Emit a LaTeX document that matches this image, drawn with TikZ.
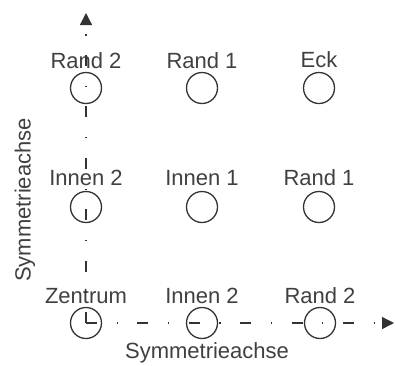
\documentclass[tikz,border=0pt]{standalone}
\usepackage{fontspec}
\setmainfont{Liberation Sans}
\usetikzlibrary{arrows.meta}
\definecolor{ink}{gray}{0.2}
\definecolor{txt}{gray}{0.25}
\tikzset{
  cell/.style={circle,draw=ink,line width=1.3pt,minimum size=31pt,inner sep=0pt},
  lbl/.style={anchor=base,inner sep=0pt,text=txt,font=\fontsize{22}{26}\selectfont},
  axis/.style={draw=ink,line width=1.3pt,dash pattern=on 11pt off 19.5pt on 1.2pt off 19.7pt,
    -{Triangle[length=12pt,width=12pt]}},
}
\begin{document}
\begin{tikzpicture}[x=1pt,y=-1pt]
\useasboundingbox (0,0) rectangle (395,365);
% circles
\node[cell] (r1c1) at (86,88) {};
\node[cell] (r1c2) at (202,88) {};
\node[cell] (r1c3) at (319,88) {};
\node[cell] (r2c1) at (86,207) {};
\node[cell] (r2c2) at (202,207) {};
\node[cell] (r2c3) at (319,207) {};
\node[cell] (r3c1) at (86,323) {};
\node[cell] (r3c2) at (202,323) {};
\node[cell] (r3c3) at (320,323) {};
% labels
\node[lbl] (l11) at (86,68) {Rand 2};
\node[lbl] (l12) at (202,68) {Rand 1};
\node[lbl] (l13) at (319,67) {Eck};
\node[lbl] (l21) at (86,185) {Innen 2};
\node[lbl] (l22) at (202,185) {Innen 1};
\node[lbl] (l23) at (319,185) {Rand 1};
\node[lbl] (l31) at (86,303) {Zentrum};
\node[lbl] (l32) at (202,303) {Innen 2};
\node[lbl] (l33) at (320,303) {Rand 2};
% axes
\coordinate (xend) at (394,323);
\coordinate (yend) at (86,13);
\draw[axis] (r3c1.center) -- (xend);
\draw[axis] (r3c1.center) -- (yend);
\node[lbl] (xlab) at (207,358) {Symmetrieachse};
\node[lbl,anchor=center,rotate=90] (ylab) at (25,200) {Symmetrieachse};
\end{tikzpicture}
\end{document}
